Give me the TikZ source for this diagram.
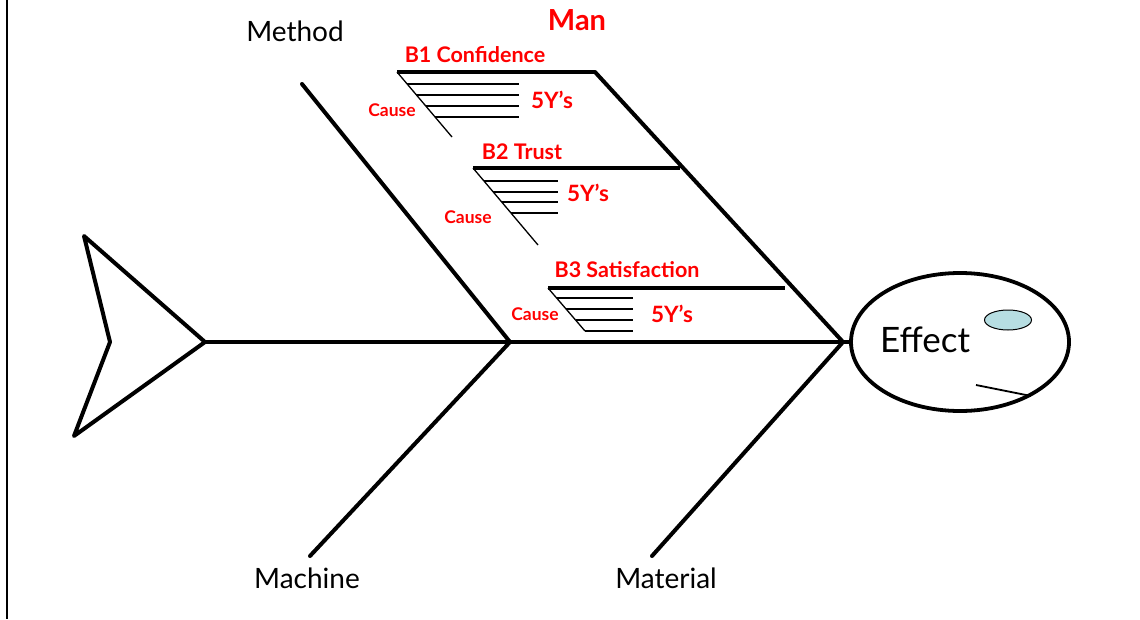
\documentclass[tikz,border=0pt]{standalone}
\usepackage{fontspec}
\setmainfont{Lato}
\usetikzlibrary{shapes.geometric}
\definecolor{lblred}{RGB}{255,0,0}
\definecolor{eyecyan}{RGB}{183,222,226}
\tikzset{
  bone/.style={line width=4pt, line cap=round, line join=round},
  sub/.style={line width=3.8pt},
  thin/.style={line width=1.3pt},
  lbl/.style={inner sep=0pt, font=\fontsize{28}{28}\selectfont},
  redlbl/.style={inner sep=0pt, text=lblred, font=\fontsize{21.5}{21.5}\selectfont\bfseries},
  causelbl/.style={inner sep=0pt, text=lblred, font=\fontsize{17.5}{17.5}\selectfont\bfseries},
  ylbl/.style={inner sep=0pt, text=lblred, font=\fontsize{22.5}{22.5}\selectfont\bfseries},
}
\begin{document}
\begin{tikzpicture}[x=1pt,y=-1pt]
\useasboundingbox (0,0) rectangle (1140,619);
\fill[white] (0,0) rectangle (1140,619);
% left border line
\coordinate (bt) at (7,0);
\coordinate (bb) at (7,619);
\draw[line width=2.2pt] (bt) -- (bb);

% tail
\coordinate (t1) at (84,236);
\coordinate (t2) at (205,342);
\coordinate (t3) at (74,436);
\coordinate (t4) at (110,342);
\draw[bone] (t1) -- (t2) -- (t3) -- (t4) -- cycle;

% spine
\coordinate (j1) at (510,342);
\node[draw, line width=3.8pt, ellipse, minimum width=218pt, minimum height=138pt, inner sep=0pt] (effect) at (960,342) {};
\coordinate (head) at (850,342);
\draw[bone] (t2) -- (j1) -- (head);
\coordinate (j2) at (843,342);

% main bones
\coordinate (meth) at (302,84);
\coordinate (mach) at (310,556);
\coordinate (man) at (595,72);
\coordinate (mat) at (652,556);
\draw[bone] (meth) -- (j1);
\draw[bone] (j1) -- (mach);
\draw[bone] (man) -- (j2);
\draw[bone] (j2) -- (mat);

% head details
\node[inner sep=0pt, font=\fontsize{35}{35}\selectfont] (efftext) at (925,340) {Effect};
\node[draw, fill=eyecyan, ellipse, line width=1pt, minimum width=47pt, minimum height=20pt, inner sep=0pt] (eye) at (1008,320) {};
\coordinate (m1) at (976,385);
\coordinate (m2) at (1031,396);
\draw[line width=1.8pt] (m1) -- (m2);

% category labels
\node[lbl] (lmethod) at (295,31) {Method};
\node[lbl] (lmachine) at (307,578) {Machine};
\node[lbl] (lmaterial) at (666,578) {Material};
\node[inner sep=0pt, text=lblred, font=\fontsize{29}{29}\selectfont\bfseries] (lman) at (577,20) {Man};

% B1
\coordinate (b1a) at (397,72);
\coordinate (b1b) at (595,72);
\coordinate (b1d) at (452,137);
\draw[sub] (b1a) -- (b1b);
\draw[thin] (b1a) -- (b1d);
\foreach \yy in {84,95,106,117} {
  \coordinate (s) at ({397+(\yy-72)*55/65},\yy);
  \coordinate (e) at (519,\yy);
  \draw[thin] (s) -- (e);
}
\node[redlbl] (lb1) at (475,55) {B1 Confidence};
\node[ylbl] (y1) at (552,100) {5Y’s};
\node[causelbl] (c1) at (392,110) {Cause};

% B2
\coordinate (b2a) at (473,168);
\coordinate (b2b) at (680,168);
\coordinate (b2d) at (538,245);
\draw[sub] (b2a) -- (b2b);
\draw[thin] (b2a) -- (b2d);
\foreach \yy in {181,192,202,213} {
  \coordinate (s) at ({473+(\yy-168)*65/77},\yy);
  \coordinate (e) at (558,\yy);
  \draw[thin] (s) -- (e);
}
\node[redlbl] (lb2) at (522,152) {B2 Trust};
\node[ylbl] (y2) at (588,193) {5Y’s};
\node[causelbl] (c2) at (468,217) {Cause};

% B3
\coordinate (b3a) at (548,288);
\coordinate (b3b) at (785,288);
\coordinate (b3d) at (585,331);
\draw[sub] (b3a) -- (b3b);
\draw[thin] (b3a) -- (b3d);
\foreach \yy in {298,309,320,331} {
  \coordinate (s) at ({548+(\yy-288)*37/43},\yy);
  \coordinate (e) at (633,\yy);
  \draw[thin] (s) -- (e);
}
\node[redlbl] (lb3) at (627,270) {B3 Satisfaction};
\node[ylbl] (y3) at (672,314) {5Y’s};
\node[causelbl] (c3) at (535,314) {Cause};
\end{tikzpicture}
\end{document}
